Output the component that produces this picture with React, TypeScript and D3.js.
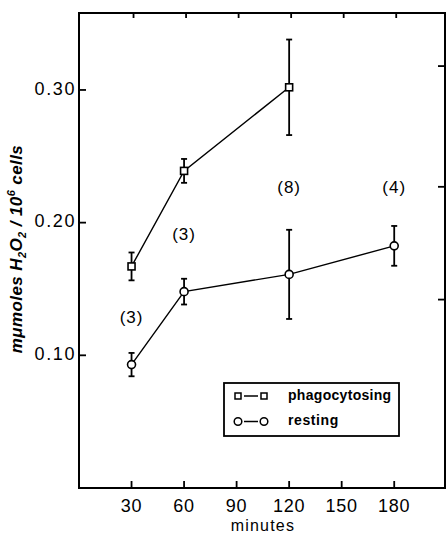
import * as d3 from "d3";

// values
const xTickValues = [30, 60, 90, 120, 150, 180];
const yTickValues = [0.1, 0.2, 0.3];
const yTickLabels = ["0.10", "0.20", "0.30"];
const rightTickValues = [0.142, 0.227, 0.318];

const phagoMinutes = [30, 60, 120];
const phagoMean = [0.167, 0.239, 0.302];
const phagoErr = [0.0105, 0.009, 0.036];

const restMinutes = [30, 60, 120, 180];
const restMean = [0.093, 0.148, 0.161, 0.1825];
const restErr = [0.0088, 0.0097, 0.0336, 0.015];

const nLabels = ["(3)", "(3)", "(8)", "(4)"];
const nMinutes = [30, 60, 120, 180];
const nValues = [0.128, 0.19, 0.226, 0.226];

const width = 448;
const height = 533;
const left = 79;
const right = 445;
const top = 13;
const bottom = 488;

const font = "'Liberation Sans', Arial, sans-serif";

export default function App() {
    const x = d3.scaleLinear().domain([0, 209]).range([left, right]);
    const y = d3.scaleLinear().domain([0, 0.358]).range([bottom, top]);

    const phago = phagoMinutes.map((m, i) => ({ m, v: phagoMean[i], e: phagoErr[i] }));
    const rest = restMinutes.map((m, i) => ({ m, v: restMean[i], e: restErr[i] }));

    const line = d3.line<{ m: number; v: number }>().x((d) => x(d.m)).y((d) => y(d.v));

    return (
        <div style={{ position: "fixed", left: 0, top: 0 }}>
            <svg width={width} height={height} style={{ display: "block", background: "#fff" }}>
                {/* frame */}
                <rect x={left} y={top} width={right - left} height={bottom - top} fill="none" stroke="#000" strokeWidth="2" />

                {xTickValues.map((t) => (
                    <g key={`x-${t}`}>
                        <line x1={x(t)} x2={x(t)} y1={bottom} y2={bottom - 7} stroke="#000" strokeWidth="1.8" />
                        <line x1={x(t) + 2} x2={x(t) + 2} y1={top} y2={top + 5} stroke="#000" strokeWidth="1.8" />
                        <text x={x(t)} y={512} textAnchor="middle" fontSize="18" fontFamily={font} letterSpacing="0.8">
                            {t}
                        </text>
                    </g>
                ))}
                <text x={x(105)} y={531} textAnchor="middle" fontSize="16" fontFamily={font} letterSpacing="1.2">
                    minutes
                </text>

                {yTickValues.map((t, i) => (
                    <g key={`y-${t}`}>
                        <line x1={left} x2={left + 7} y1={y(t)} y2={y(t)} stroke="#000" strokeWidth="1.8" />
                        <text x={76} y={y(t)} textAnchor="end" dominantBaseline="middle" fontSize="18" fontFamily={font} letterSpacing="1.6">
                            {yTickLabels[i]}
                        </text>
                    </g>
                ))}
                {rightTickValues.map((t) => (
                    <line key={`r-${t}`} x1={right} x2={right - 7} y1={y(t)} y2={y(t)} stroke="#000" strokeWidth="1.8" />
                ))}

                {/* y axis title */}
                <text
                    transform="translate(22,249) rotate(-90)"
                    textAnchor="middle"
                    fontSize="17"
                    fontFamily={font}
                    fontStyle="italic"
                    fontWeight="bold"
                    letterSpacing="0.4"
                >
                    <tspan>mμmoles H</tspan>
                    <tspan fontSize="11" dy="4">2</tspan>
                    <tspan dy="-4">O</tspan>
                    <tspan fontSize="11" dy="4">2</tspan>
                    <tspan dy="-4"> / 10</tspan>
                    <tspan fontSize="11" dy="-7">6</tspan>
                    <tspan dy="7"> cells</tspan>
                </text>

                {/* series lines */}
                <path d={line(phago) ?? ""} fill="none" stroke="#000" strokeWidth="1.4" />
                <path d={line(rest) ?? ""} fill="none" stroke="#000" strokeWidth="1.4" />

                {/* error bars */}
                {[...phago, ...rest].map((d, i) => (
                    <g key={`e-${i}`} stroke="#000" strokeWidth="1.8">
                        <line x1={x(d.m)} x2={x(d.m)} y1={y(d.v - d.e)} y2={y(d.v + d.e)} />
                        <line x1={x(d.m) - 3} x2={x(d.m) + 3} y1={y(d.v - d.e)} y2={y(d.v - d.e)} />
                        <line x1={x(d.m) - 3} x2={x(d.m) + 3} y1={y(d.v + d.e)} y2={y(d.v + d.e)} />
                    </g>
                ))}

                {/* markers */}
                {phago.map((d, i) => (
                    <rect key={`s-${i}`} x={x(d.m) - 3.5} y={y(d.v) - 3.5} width="7" height="7" fill="#fff" stroke="#000" strokeWidth="1.6" />
                ))}
                {rest.map((d, i) => (
                    <circle key={`c-${i}`} cx={x(d.m)} cy={y(d.v)} r="4" fill="#fff" stroke="#000" strokeWidth="1.6" />
                ))}

                {/* n labels */}
                {nLabels.map((s, i) => (
                    <text
                        key={`n-${i}`}
                        x={x(nMinutes[i])}
                        y={y(nValues[i])}
                        textAnchor="middle"
                        dominantBaseline="middle"
                        fontSize="17"
                        fontFamily={font}
                        letterSpacing="1"
                    >
                        {s}
                    </text>
                ))}

                {/* legend */}
                <rect x={224} y={383} width={175} height={53} fill="#fff" stroke="#000" strokeWidth="1.8" />
                <line x1={244} x2={258} y1={396} y2={396} stroke="#000" strokeWidth="1.5" />
                <rect x={235} y={393} width="6" height="6" fill="#fff" stroke="#000" strokeWidth="1.5" />
                <rect x={261} y={393} width="6" height="6" fill="#fff" stroke="#000" strokeWidth="1.5" />
                <text x={288} y={396} dominantBaseline="middle" fontSize="14" fontWeight="bold" fontFamily={font} letterSpacing="0.3">
                    phagocytosing
                </text>
                <line x1={244} x2={258} y1={421.5} y2={421.5} stroke="#000" strokeWidth="1.5" />
                <circle cx={238} cy={421.5} r="3.8" fill="#fff" stroke="#000" strokeWidth="1.5" />
                <circle cx={264} cy={421.5} r="3.8" fill="#fff" stroke="#000" strokeWidth="1.5" />
                <text x={288} y={421.5} dominantBaseline="middle" fontSize="14" fontWeight="bold" fontFamily={font} letterSpacing="0.6">
                    resting
                </text>
            </svg>
        </div>
    );
}
